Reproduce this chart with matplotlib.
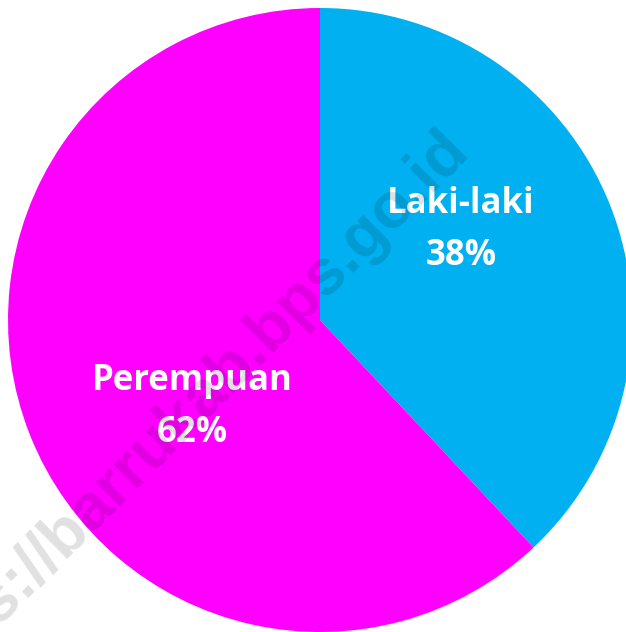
import matplotlib
matplotlib.use('Agg')
from matplotlib import pyplot as plt

labels = ['Laki-laki', 'Perempuan']
values = [38, 62]
colors = ['#00B0F0', '#FF00FF']
watermark = 'https://barrukab.bps.go.id'

W, H = 626, 632
cx, cy, r = 320, 320, 312

fig = plt.figure(figsize=(W/100, H/100), dpi=100)
ax = fig.add_axes([(cx-r)/W, (H-cy-r)/H, 2*r/W, 2*r/H])
ax.pie(values, colors=colors, startangle=90, counterclock=False,
       wedgeprops=dict(linewidth=0))
ax.set_xlim(-1, 1)
ax.set_ylim(-1, 1)
ax.set_aspect('equal')
ax.axis('off')

# label baselines in pixel coords (name line, pct line)
label_pos = [(461, 213, 265), (192, 390, 442)]
for lab, v, (px, b1, b2) in zip(labels, values, label_pos):
    x = (px - cx) / r
    ax.text(x, (cy - b1) / r, lab, ha='center', va='baseline', color='white',
            fontsize=25, fontweight='bold', family='Open Sans')
    ax.text(x, (cy - b2) / r, '%d%%' % v, ha='center', va='baseline', color='white',
            fontsize=25, fontweight='bold', family='Open Sans')

fig.text(470/W, 1 - 152/H, watermark, rotation=45, rotation_mode='anchor',
         ha='right', va='baseline', fontsize=46, fontweight='bold',
         family='Liberation Sans', color='black', alpha=0.12)

fig.savefig('out.png', dpi=100)
